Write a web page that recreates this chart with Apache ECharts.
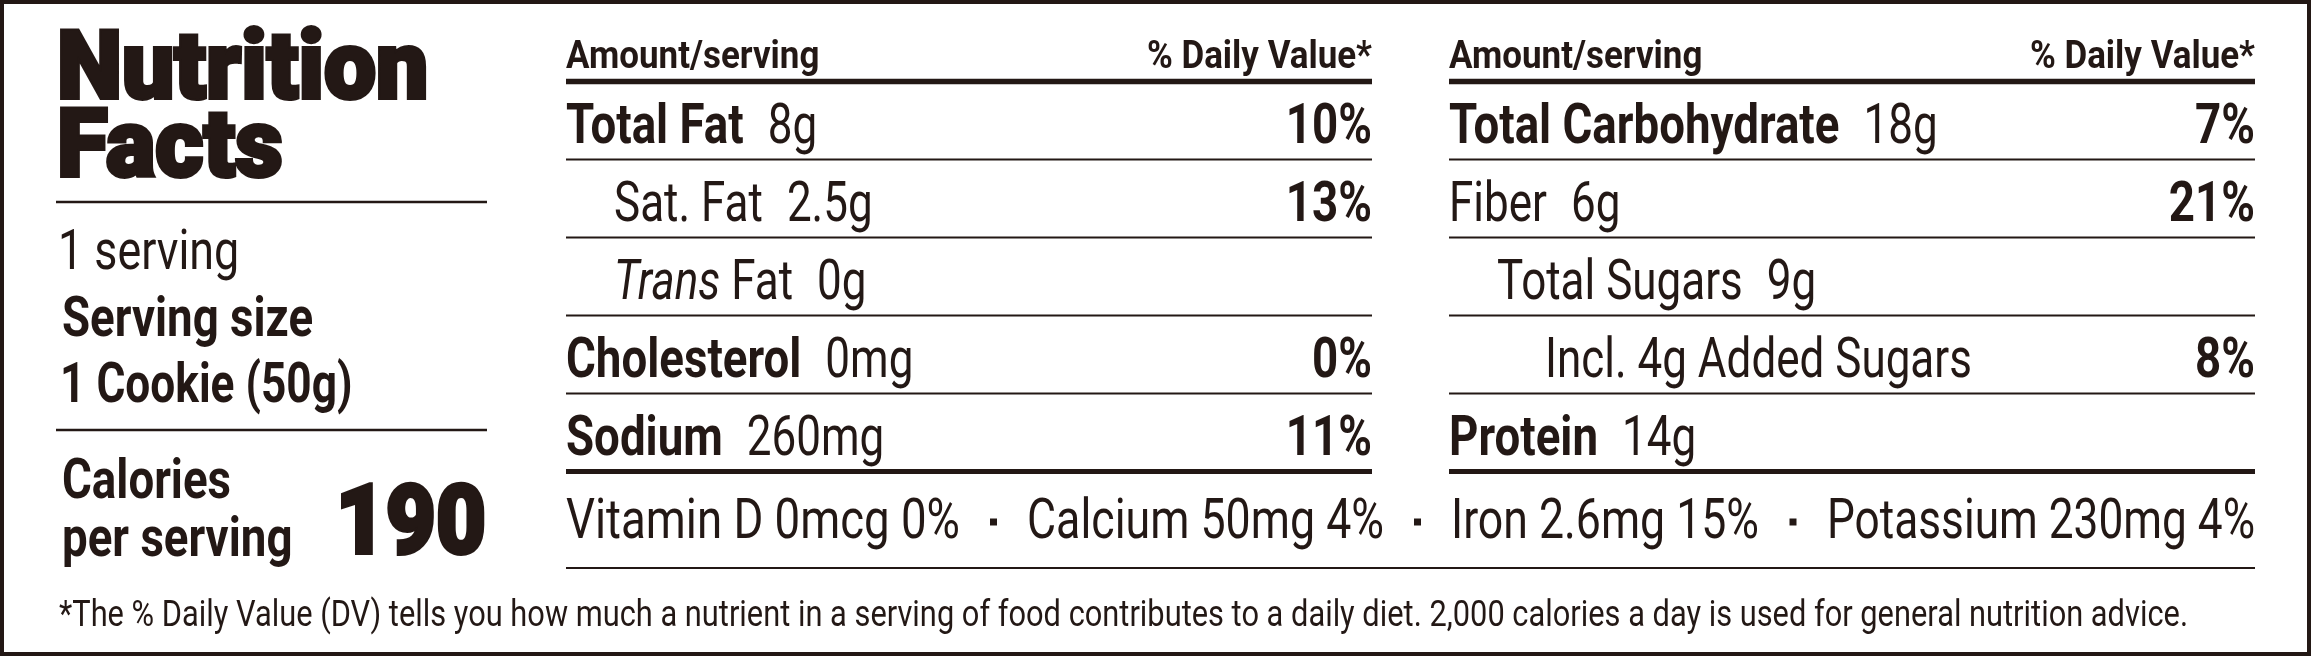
<!DOCTYPE html>
<html>
<head>
<meta charset="utf-8">
<title>Nutrition Facts</title>
<script src="https://cdn.jsdelivr.net/npm/echarts@6/dist/echarts.min.js"></script>
<style>
  html, body { margin: 0; padding: 0; background: #fff; }
  #label { width: 2312px; height: 658px; }
</style>
</head>
<body>
<div id="label"></div>
<script>
// label values
var servingsText = '1 serving';
var servingSizeText = 'Serving size';
var servingAmount = '1 Cookie (50g)';
var caloriesValue = '190';

var leftNames   = ['Total Fat', 'Sat. Fat', 'Trans Fat', 'Cholesterol', 'Sodium'];
var leftAmounts = ['8g', '2.5g', '0g', '0mg', '260mg'];
var leftDV      = ['10%', '13%', '', '0%', '11%'];
var leftBold    = [true, false, false, true, true];
var leftLevel   = [0, 1, 1, 0, 0];

var rightNames   = ['Total Carbohydrate', 'Fiber', 'Total Sugars', 'Incl. 4g Added Sugars', 'Protein'];
var rightAmounts = ['18g', '6g', '9g', '', '14g'];
var rightDV      = ['7%', '21%', '', '8%', ''];
var rightBold    = [true, false, false, false, true];
var rightLevel   = [0, 0, 1, 2, 0];

var vitamins = ['Vitamin D 0mcg 0%', 'Calcium 50mg 4%', 'Iron 2.6mg 15%', 'Potassium 230mg 4%'];
var footnote = '*The % Daily Value (DV) tells you how much a nutrient in a serving of food contributes to a daily diet. 2,000 calories a day is used for general nutrition advice.';

// layout
var FONT = 'Roboto, "Liberation Sans", sans-serif';
var INK = '#231815';
var BODY = 55, HEAD = 38, NOTE = 36;
var SXB = 0.83, SXR = 0.80;   // squeeze bold / regular to get the condensed look
var MID = [566, 1372], RIGHT = [1449, 2255];
var LINE0 = 81.5, PITCH = 78;
var GAP = 24, INDENT = 48;
var VIT_SPANS = [[566, 960], [1027, 1384], [1451, 1759], [1827, 2255]];

var ctx = document.createElement('canvas').getContext('2d');
function measure(str, weight, size, italic) {
    ctx.font = (italic ? 'italic ' : '') + weight + ' ' + size + 'px ' + FONT;
    return ctx.measureText(str).width;
}

function st(size, weight, italic) {
    return {
        fontSize: size, fontFamily: FONT, fontWeight: weight,
        fontStyle: italic ? 'italic' : 'normal', fill: INK
    };
}

function text(x, y, str, s, opts) {
    opts = opts || {};
    var align = opts.align || 'left';
    var style = Object.assign({
        text: str, align: align, textAlign: align,
        verticalAlign: 'middle', textVerticalAlign: 'middle'
    }, s, opts.extra || {});
    return { type: 'text', x: x, y: y, scaleX: opts.sx || SXR, silent: true, style: style };
}

// pieces of text set one after another on the same line
function runs(x, y, parts) {
    var els = [], cx = x;
    parts.forEach(function (p) {
        cx += p.gap || 0;
        els.push(text(cx, y, p.t, st(p.size, p.weight, p.italic), { sx: p.sx }));
        cx += measure(p.t, p.weight, p.size, p.italic) * p.sx;
    });
    return els;
}

function line(x1, x2, y, w) {
    return {
        type: 'line', silent: true,
        shape: { x1: x1, y1: y, x2: x2, y2: y },
        style: { stroke: INK, lineWidth: w }
    };
}

function column(span, names, amounts, dv, bold, level) {
    var els = [];
    els.push(text(span[0], LINE0 - 23.5, 'Amount/serving', st(HEAD, 'bold'), { sx: 0.92 }));
    els.push(text(span[1], LINE0 - 23.5, '% Daily Value*', st(HEAD, 'bold'), { align: 'right', sx: 0.92 }));
    els.push(line(span[0], span[1], LINE0, 5.5));
    names.forEach(function (name, i) {
        var top = LINE0 + i * PITCH;
        var cy = top + 47.5;
        var parts;
        if (name.indexOf('Trans ') === 0) {
            parts = [
                { t: 'Trans', size: BODY, weight: 'normal', italic: true, sx: SXR },
                { t: name.slice(5), size: BODY, weight: 'normal', sx: SXR }
            ];
        } else {
            parts = [{ t: name, size: BODY, weight: bold[i] ? 'bold' : 'normal', sx: bold[i] ? SXB : SXR }];
        }
        if (amounts[i]) parts.push({ t: amounts[i], size: BODY, weight: 'normal', sx: SXR, gap: GAP });
        els = els.concat(runs(span[0] + level[i] * INDENT, cy, parts));
        if (dv[i]) {
            els.push(text(span[1], cy, dv[i], st(BODY, 'bold'), { align: 'right', sx: SXB }));
        }
        if (i > 0) els.push(line(span[0], span[1], top, 2));
    });
    els.push(line(span[0], span[1], LINE0 + names.length * PITCH, 5));
    return els;
}

var elements = [];

// outer frame
elements.push({
    type: 'rect', silent: true,
    shape: { x: 2, y: 2, width: 2307, height: 652 },
    style: { fill: 'none', stroke: INK, lineWidth: 4 }
});

// left block
var heavy = { stroke: INK, lineWidth: 4, lineJoin: 'round' };
elements.push(text(57, 74, 'Nutrition', st(94, 900), { sx: 0.985, extra: heavy }));
elements.push(text(57, 152, 'Facts', st(94, 900), { sx: 0.985, extra: heavy }));
elements.push(line(56, 487, 202, 2.5));
elements.push(text(58, 255, servingsText, st(56, 'normal')));
elements.push(text(62, 322, servingSizeText, st(55, 'bold'), { sx: SXB }));
elements.push(text(60, 388, servingAmount, st(56, 'bold'), { sx: 0.79 }));
elements.push(line(56, 487, 430, 2.5));
elements.push(text(62, 484, 'Calories', st(55, 'bold'), { sx: SXB }));
elements.push(text(62, 542, 'per serving', st(55, 'bold'), { sx: SXB }));
elements.push(text(486, 529, caloriesValue, st(96, 900), { align: 'right', sx: 0.9, extra: heavy }));

// nutrient columns
elements = elements.concat(column(MID, leftNames, leftAmounts, leftDV, leftBold, leftLevel));
elements = elements.concat(column(RIGHT, rightNames, rightAmounts, rightDV, rightBold, rightLevel));

// vitamins and minerals row
var vitY = 524;
vitamins.forEach(function (v, k) {
    var sp = VIT_SPANS[k];
    var sx = (sp[1] - sp[0]) / measure(v, 'normal', BODY);
    elements.push(text(sp[0], vitY, v, st(BODY, 'normal'), { sx: sx }));
    if (k > 0) {
        var bx = (VIT_SPANS[k - 1][1] + sp[0]) / 2;
        elements.push({
            type: 'rect', silent: true,
            shape: { x: bx - 3.5, y: 518.5, width: 7, height: 7 },
            style: { fill: INK }
        });
    }
});
elements.push(line(MID[0], RIGHT[1], 568, 2));

// footnote
var noteSx = (2188 - 59) / measure(footnote, 'normal', NOTE);
elements.push(text(59, 617, footnote, st(NOTE, 'normal'), { sx: noteSx }));

var chart = echarts.init(document.getElementById('label'));
chart.setOption({
    backgroundColor: '#ffffff',
    animation: false,
    graphic: { elements: elements }
});
</script>
</body>
</html>
